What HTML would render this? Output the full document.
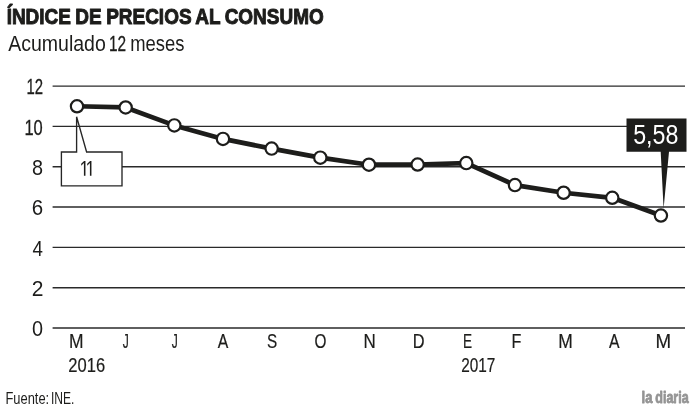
<!DOCTYPE html>
<html lang="es"><head><meta charset="utf-8"><title>Índice de precios al consumo</title>
<style>
html,body{margin:0;padding:0;background:#fff;}
body{width:700px;height:410px;overflow:hidden;position:relative;font-family:"Liberation Sans",sans-serif;}
svg{position:absolute;left:0;top:0;display:block;}
text{font-family:"Liberation Sans",sans-serif;white-space:pre;}
</style></head><body>
<svg width="700" height="410" viewBox="0 0 700 410" role="img" aria-label="Índice de precios al consumo, acumulado 12 meses">
<rect width="700" height="410" fill="#fff"/>
<g stroke="#2a2a2a" stroke-width="1.4" fill="none">
<line x1="52.6" y1="86.10" x2="685" y2="86.10"/>
<line x1="52.6" y1="126.42" x2="685" y2="126.42"/>
<line x1="52.6" y1="166.74" x2="685" y2="166.74"/>
<line x1="52.6" y1="207.06" x2="685" y2="207.06"/>
<line x1="52.6" y1="247.38" x2="685" y2="247.38"/>
<line x1="52.6" y1="287.70" x2="685" y2="287.70"/>
<line x1="52.6" y1="328.02" x2="685" y2="328.02"/>
</g>
<rect x="61.4" y="152" width="60.6" height="33.9" fill="#fff"/>
<path d="M76.6 116.8 V152 H61.4 V185.9 H122 V152 H86.6 L76.6 116.8" fill="none" stroke="#262626" stroke-width="1.35" stroke-linejoin="miter"/>
<path d="M77.00 106.26 L125.66 107.47 L174.32 125.41 L222.98 138.92 L271.64 148.60 L320.30 157.67 L368.96 164.72 L417.62 164.52 L466.28 163.11 L514.94 185.09 L563.60 192.75 L612.26 197.79 L660.92 215.53" fill="none" stroke="#1d1d1b" stroke-width="4.7" stroke-linejoin="round"/>
<path d="M626.5 118.5 H686.5 V151.8 H669.0 L663.6 208.5 L660.7 151.8 H626.5 Z" fill="#1d1d1b"/>
<circle cx="77.00" cy="106.26" r="6.15" fill="#fff" stroke="#1d1d1b" stroke-width="2.2"/>
<circle cx="125.66" cy="107.47" r="6.15" fill="#fff" stroke="#1d1d1b" stroke-width="2.2"/>
<circle cx="174.32" cy="125.41" r="6.15" fill="#fff" stroke="#1d1d1b" stroke-width="2.2"/>
<circle cx="222.98" cy="138.92" r="6.15" fill="#fff" stroke="#1d1d1b" stroke-width="2.2"/>
<circle cx="271.64" cy="148.60" r="6.15" fill="#fff" stroke="#1d1d1b" stroke-width="2.2"/>
<circle cx="320.30" cy="157.67" r="6.15" fill="#fff" stroke="#1d1d1b" stroke-width="2.2"/>
<circle cx="368.96" cy="164.72" r="6.15" fill="#fff" stroke="#1d1d1b" stroke-width="2.2"/>
<circle cx="417.62" cy="164.52" r="6.15" fill="#fff" stroke="#1d1d1b" stroke-width="2.2"/>
<circle cx="466.28" cy="163.11" r="6.15" fill="#fff" stroke="#1d1d1b" stroke-width="2.2"/>
<circle cx="514.94" cy="185.09" r="6.15" fill="#fff" stroke="#1d1d1b" stroke-width="2.2"/>
<circle cx="563.60" cy="192.75" r="6.15" fill="#fff" stroke="#1d1d1b" stroke-width="2.2"/>
<circle cx="612.26" cy="197.79" r="6.15" fill="#fff" stroke="#1d1d1b" stroke-width="2.2"/>
<circle cx="660.92" cy="215.53" r="6.15" fill="#fff" stroke="#1d1d1b" stroke-width="2.2"/>
<text y="24.30" style="font-size:22.3px;font-weight:bold;word-spacing:-1px;" fill="#1d1d1b" stroke="#1d1d1b" stroke-width="1.0" stroke-linejoin="round"><tspan x="6.65" textLength="317.10" lengthAdjust="spacingAndGlyphs">ÍNDICE DE PRECIOS AL CONSUMO</tspan></text>
<text y="50.70" style="font-size:22.8px;" fill="#1d1d1b"><tspan x="8.15" textLength="97.66" lengthAdjust="spacingAndGlyphs">Acumulado</tspan> <tspan x="109.00" textLength="17.16" lengthAdjust="spacingAndGlyphs" stroke="#1d1d1b" stroke-width="0.3">12</tspan> <tspan x="130.25" textLength="54.16" lengthAdjust="spacingAndGlyphs">meses</tspan></text>
<text y="94.30" style="font-size:21.6px;" fill="#1d1d1b"><tspan x="26.45" textLength="16.59" lengthAdjust="spacingAndGlyphs" stroke="#1d1d1b" stroke-width="0.3">12</tspan></text>
<text y="134.62" style="font-size:21.6px;" fill="#1d1d1b"><tspan x="24.45" textLength="18.32" lengthAdjust="spacingAndGlyphs" stroke="#1d1d1b" stroke-width="0.3">10</tspan></text>
<text y="174.94" style="font-size:21.6px;" fill="#1d1d1b"><tspan x="32.05" textLength="11.05" lengthAdjust="spacingAndGlyphs">8</tspan></text>
<text y="215.26" style="font-size:21.6px;" fill="#1d1d1b"><tspan x="31.80" textLength="11.41" lengthAdjust="spacingAndGlyphs">6</tspan></text>
<text y="255.58" style="font-size:21.6px;" fill="#1d1d1b"><tspan x="32.55" textLength="10.40" lengthAdjust="spacingAndGlyphs">4</tspan></text>
<text y="295.90" style="font-size:21.6px;" fill="#1d1d1b"><tspan x="31.80" textLength="11.71" lengthAdjust="spacingAndGlyphs">2</tspan></text>
<text y="336.22" style="font-size:21.6px;" fill="#1d1d1b"><tspan x="32.05" textLength="11.05" lengthAdjust="spacingAndGlyphs">0</tspan></text>
<text y="347.50" style="font-size:19.6px;" fill="#1d1d1b"><tspan x="69.10" textLength="14.53" lengthAdjust="spacingAndGlyphs" stroke="#1d1d1b" stroke-width="0.2">M</tspan></text>
<text y="347.50" style="font-size:19.6px;" fill="#1d1d1b"><tspan x="122.80" textLength="6.03" lengthAdjust="spacingAndGlyphs" stroke="#1d1d1b" stroke-width="0.2">J</tspan></text>
<text y="347.50" style="font-size:19.6px;" fill="#1d1d1b"><tspan x="171.80" textLength="6.03" lengthAdjust="spacingAndGlyphs" stroke="#1d1d1b" stroke-width="0.2">J</tspan></text>
<text y="347.50" style="font-size:19.6px;" fill="#1d1d1b"><tspan x="217.85" textLength="10.55" lengthAdjust="spacingAndGlyphs" stroke="#1d1d1b" stroke-width="0.2">A</tspan></text>
<text y="347.50" style="font-size:19.6px;" fill="#1d1d1b"><tspan x="267.10" textLength="10.19" lengthAdjust="spacingAndGlyphs" stroke="#1d1d1b" stroke-width="0.2">S</tspan></text>
<text y="347.50" style="font-size:19.6px;" fill="#1d1d1b"><tspan x="314.60" textLength="11.94" lengthAdjust="spacingAndGlyphs" stroke="#1d1d1b" stroke-width="0.2">O</tspan></text>
<text y="347.50" style="font-size:19.6px;" fill="#1d1d1b"><tspan x="363.60" textLength="12.26" lengthAdjust="spacingAndGlyphs" stroke="#1d1d1b" stroke-width="0.2">N</tspan></text>
<text y="347.50" style="font-size:19.6px;" fill="#1d1d1b"><tspan x="412.85" textLength="11.84" lengthAdjust="spacingAndGlyphs" stroke="#1d1d1b" stroke-width="0.2">D</tspan></text>
<text y="347.50" style="font-size:19.6px;" fill="#1d1d1b"><tspan x="463.10" textLength="9.07" lengthAdjust="spacingAndGlyphs" stroke="#1d1d1b" stroke-width="0.2">E</tspan></text>
<text y="347.50" style="font-size:19.6px;" fill="#1d1d1b"><tspan x="511.60" textLength="9.85" lengthAdjust="spacingAndGlyphs" stroke="#1d1d1b" stroke-width="0.2">F</tspan></text>
<text y="347.50" style="font-size:19.6px;" fill="#1d1d1b"><tspan x="558.35" textLength="14.53" lengthAdjust="spacingAndGlyphs" stroke="#1d1d1b" stroke-width="0.2">M</tspan></text>
<text y="347.50" style="font-size:19.6px;" fill="#1d1d1b"><tspan x="609.10" textLength="10.55" lengthAdjust="spacingAndGlyphs" stroke="#1d1d1b" stroke-width="0.2">A</tspan></text>
<text y="347.50" style="font-size:19.6px;" fill="#1d1d1b"><tspan x="655.60" textLength="15.62" lengthAdjust="spacingAndGlyphs" stroke="#1d1d1b" stroke-width="0.2">M</tspan></text>
<text y="371.50" style="font-size:20.3px;" fill="#1d1d1b"><tspan x="68.25" textLength="36.86" lengthAdjust="spacingAndGlyphs" stroke="#1d1d1b" stroke-width="0.2">2016</tspan></text>
<text y="371.50" style="font-size:20.3px;" fill="#1d1d1b"><tspan x="461.25" textLength="34.15" lengthAdjust="spacingAndGlyphs" stroke="#1d1d1b" stroke-width="0.2">2017</tspan></text>
<text y="403.50" style="font-size:16.5px;" fill="#1d1d1b"><tspan x="5.45" textLength="43.74" lengthAdjust="spacingAndGlyphs">Fuente:</tspan> <tspan x="50.95" textLength="23.43" lengthAdjust="spacingAndGlyphs">INE.</tspan></text>
<text y="403.40" style="font-size:15.8px;font-weight:bold;" fill="#949494" stroke="#949494" stroke-width="0.8" stroke-linejoin="round"><tspan x="641.60" textLength="10.91" lengthAdjust="spacingAndGlyphs">la</tspan> <tspan x="655.25" textLength="33.45" lengthAdjust="spacingAndGlyphs">diaria</tspan></text>
<text y="143.70" style="font-size:27.5px;" fill="#ffffff"><tspan x="633.20" textLength="45.24" lengthAdjust="spacingAndGlyphs">5,58</tspan></text>
<clipPath id="cut11"><rect x="62" y="153" width="59" height="22.7"/></clipPath>
<g clip-path="url(#cut11)"><text transform="translate(79.4 177.9) scale(0.75 1)" style="font-size:23.4px;letter-spacing:-5px;font-kerning:none" fill="#1d1d1b">11</text></g>
</svg></body></html>
